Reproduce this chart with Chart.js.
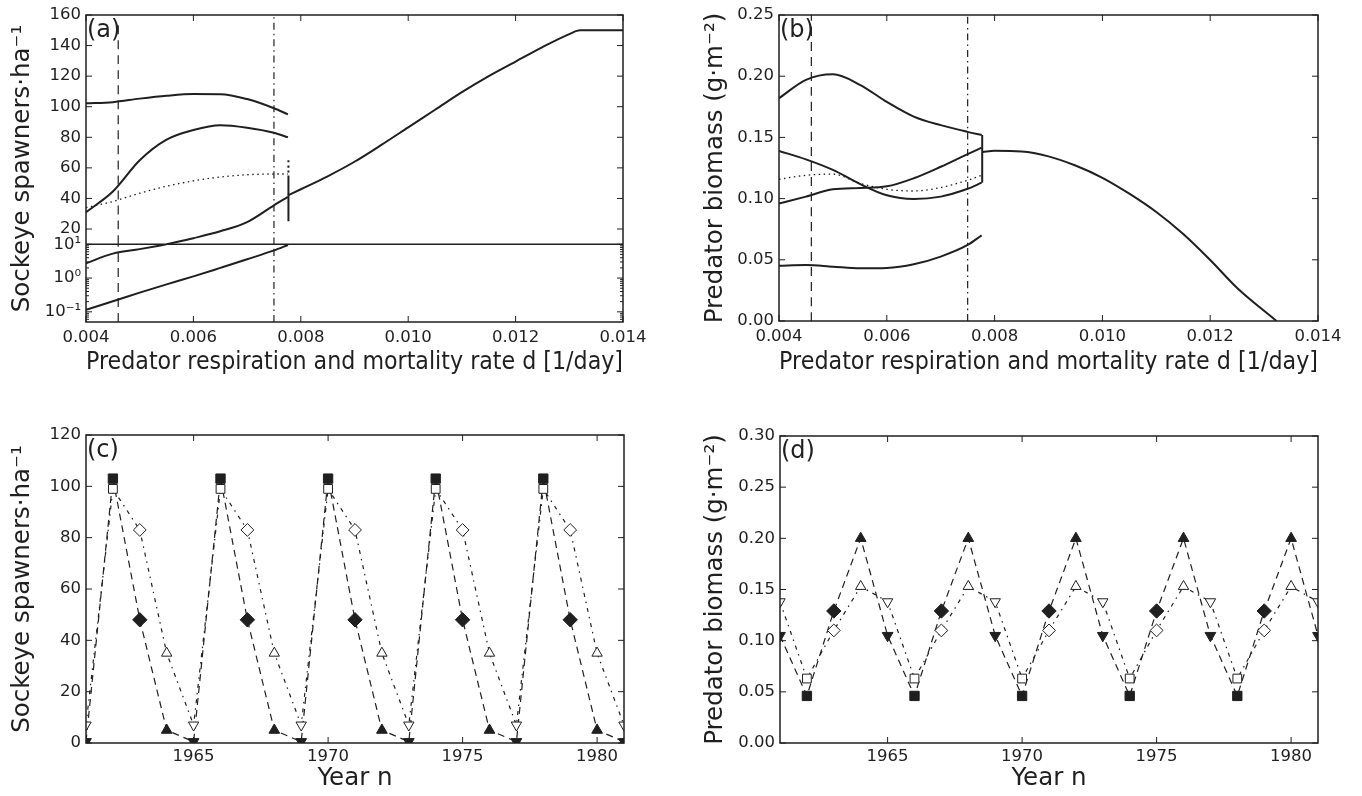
<!DOCTYPE html>
<html>
<head>
<meta charset="utf-8">
<title>Sockeye / predator bifurcation and cycles</title>
<script src="https://cdn.jsdelivr.net/npm/chart.js@4.4.0/dist/chart.umd.min.js"></script>
<style>
  html, body { margin: 0; padding: 0; background: #fff; }
  body { width: 1362px; height: 796px; position: relative; overflow: hidden; }
  .panel { position: absolute; }
</style>
</head>
<body>
<div class="panel" style="left:0;top:0;width:680px;height:395px"><canvas id="chartA"></canvas></div>
<div class="panel" style="left:690px;top:0;width:672px;height:395px"><canvas id="chartB"></canvas></div>
<div class="panel" style="left:0;top:400px;width:680px;height:396px"><canvas id="chartC"></canvas></div>
<div class="panel" style="left:690px;top:400px;width:672px;height:396px"><canvas id="chartD"></canvas></div>
<script>
// ---------- data: panels (a) and (b), equilibria against d ----------
const D_LEFT = [0.004, 0.0045, 0.005, 0.0055, 0.006, 0.0065, 0.007, 0.0075, 0.00776];
const D_LOGPART = [0.004, 0.0045, 0.005, 0.0055];
const D_LINPART = [0.0055, 0.006, 0.0065, 0.007, 0.0075, 0.00776];
const D_TAIL_A = [0.00776, 0.008, 0.0085, 0.009, 0.0095, 0.010, 0.0105, 0.011, 0.0115, 0.012, 0.0125, 0.013, 0.0132, 0.014];
const D_TAIL_B = [0.00778, 0.008, 0.0085, 0.009, 0.0095, 0.010, 0.0105, 0.011, 0.0115, 0.012, 0.0125, 0.01323];
const D_JUMP = [0.00777, 0.00777];
const D_DASHED = [0.0046, 0.0046];
const D_DASHDOT = [0.0075, 0.0075];

// (a) sockeye spawners, linear part (10..160)
const A_UPPER = [102.3, 103, 105.3, 107.2, 108.3, 108.2, 105, 99, 95];
const A_SECOND = [31, 44.5, 65, 78.5, 84.8, 87.9, 86.3, 83, 80];
const A_DOTTED = [34, 38, 43.4, 48, 51.5, 54, 55.5, 56, 56];
const A_RISE = [10, 14, 18.5, 24.5, 35.5, 41];
const A_TAIL = [42, 46, 54.5, 64, 75, 86.5, 98, 109.5, 120, 129.5, 139, 147.5, 150, 150];
const A_JUMP_SOLID = [25, 55];
const A_JUMP_DOTTED = [57, 67];
// (a) log part (0.05..10)
const A_LOW_START = [2.75, 5.3, 7.2, 10];
const A_LOWEST = [0.115, 0.205, 0.37, 0.65, 1.12, 2.0, 3.6, 6.6, 9.5];

// (b) predator biomass
const B_TOP = [0.182, 0.197, 0.2015, 0.193, 0.179, 0.167, 0.160, 0.1545, 0.152];
const B_FALL = [0.139, 0.132, 0.1234, 0.112, 0.1027, 0.0997, 0.1016, 0.108, 0.113];
const B_RISE = [0.096, 0.1016, 0.1076, 0.1087, 0.110, 0.1166, 0.126, 0.1364, 0.1416];
const B_DOTTED = [0.1158, 0.119, 0.120, 0.1125, 0.1076, 0.1062, 0.109, 0.115, 0.119];
const B_LOW = [0.0452, 0.0458, 0.0444, 0.043, 0.0433, 0.0463, 0.0526, 0.0621, 0.070];
const B_TAIL = [0.138, 0.139, 0.1385, 0.1345, 0.127, 0.117, 0.104, 0.089, 0.071, 0.0498, 0.027, 0];
const B_JUMP = [0.113, 0.152];

// ---------- data: panels (c) and (d), 4-year cycles ----------
const YEARS = [1961, 1962, 1963, 1964, 1965, 1966, 1967, 1968, 1969, 1970, 1971,
               1972, 1973, 1974, 1975, 1976, 1977, 1978, 1979, 1980, 1981];
const C_FILLED = [0.5, 103, 48, 5, 0.5, 103, 48, 5, 0.5, 103, 48, 5, 0.5, 103, 48, 5, 0.5, 103, 48, 5, 0.5];
const C_OPEN = [7, 99, 83, 35, 7, 99, 83, 35, 7, 99, 83, 35, 7, 99, 83, 35, 7, 99, 83, 35, 7];
const D_FILLED = [0.105, 0.046, 0.129, 0.2, 0.105, 0.046, 0.129, 0.2, 0.105, 0.046, 0.129,
                  0.2, 0.105, 0.046, 0.129, 0.2, 0.105, 0.046, 0.129, 0.2, 0.105];
const D_OPEN = [0.138, 0.063, 0.110, 0.153, 0.138, 0.063, 0.110, 0.153, 0.138, 0.063, 0.110,
                0.153, 0.138, 0.063, 0.110, 0.153, 0.138, 0.063, 0.110, 0.153, 0.138];

// ---------- tick labels ----------
const RATE_TICKS = [0.004, 0.006, 0.008, 0.010, 0.012, 0.014];
const A_LIN_TICKS = [20, 40, 60, 80, 100, 120, 140, 160];
const A_LOG_TICKS = [0.1, 1, 10];
const A_LOG_LABELS = ['10\u207B\u00B9', '10\u2070', '10\u00B9'];
const B_TICKS = [0, 0.05, 0.10, 0.15, 0.20, 0.25];
const YEAR_TICKS = [1965, 1970, 1975, 1980];
const C_TICKS = [0, 20, 40, 60, 80, 100, 120];
const D_TICKS = [0, 0.05, 0.10, 0.15, 0.20, 0.25, 0.30];

const INK = '#1f1f1f';
const TICK_PX = 16.5;
const TITLE_PX = 24.5;
const RATE_TITLE = 'Predator respiration and mortality rate d [1/day]';
const SOCKEYE_TITLE = 'Sockeye spawners\u00B7ha\u207B\u00B9';
const PREDATOR_TITLE = 'Predator biomass (g\u00B7m\u207B\u00B2)';

Chart.defaults.font.family = "'DejaVu Sans', sans-serif";
Chart.defaults.color = INK;
Chart.defaults.animation = false;

// box around the plot, inward ticks on all four sides, panel letter
const framePlugin = {
    id: 'frame',
    afterDatasetsDraw(chart, args, opts) {
        const ctx = chart.ctx;
        const a = chart.chartArea;
        const seg = (x1, y1, x2, y2) => { ctx.beginPath(); ctx.moveTo(x1, y1); ctx.lineTo(x2, y2); ctx.stroke(); };
        ctx.save();
        ctx.strokeStyle = INK;
        ctx.lineWidth = 1;
        Object.values(chart.scales).forEach(s => {
            s.ticks.forEach(t => {
                const p = s.getPixelForValue(t.value);
                if (s.isHorizontal()) {
                    seg(p, a.bottom, p, a.bottom - 6);
                    seg(p, a.top, p, a.top + 6);
                } else {
                    seg(a.left, p, a.left + 6, p);
                    seg(a.right, p, a.right - 6, p);
                }
            });
            if (s.type === 'logarithmic') {
                for (let e = -2; e <= 1; e++) {
                    for (let k = 2; k <= 9; k++) {
                        const v = k * Math.pow(10, e);
                        if (v <= s.min || v >= s.max) continue;
                        const p = s.getPixelForValue(v);
                        seg(a.left, p, a.left + 3, p);
                        seg(a.right, p, a.right - 3, p);
                    }
                }
            }
        });
        ctx.lineWidth = 1.5;
        ctx.strokeRect(a.left, a.top, a.right - a.left, a.bottom - a.top);
        if (opts.split) {
            const y = chart.scales[opts.split].bottom;
            seg(a.left, y, a.right, y);
        }
        ctx.fillStyle = INK;
        if (opts.label) {
            ctx.font = "24px 'DejaVu Sans'";
            ctx.textBaseline = 'top';
            ctx.textAlign = 'left';
            ctx.fillText(opts.label, a.left + 1, a.top + 4);
        }
        if (opts.yTitle) {
            // title that spans both stacked y axes of panel (a)
            ctx.font = TITLE_PX + "px 'DejaVu Sans'";
            ctx.translate(opts.yTitle.x, (a.top + a.bottom) / 2);
            ctx.rotate(-Math.PI / 2);
            ctx.textAlign = 'center';
            ctx.textBaseline = 'middle';
            ctx.fillText(opts.yTitle.text, 0, 0);
        }
        ctx.restore();
    }
};

function axisX(min, max, ticks, fmt, height, pad) {
    return {
        type: 'linear', position: 'bottom', min: min, max: max,
        grid: { display: false, drawTicks: false },
        border: { display: false },
        ticks: { padding: pad, autoSkip: false, maxRotation: 0, font: { size: TICK_PX }, callback: fmt },
        afterBuildTicks: s => { s.ticks = ticks.map(v => ({ value: v })); },
        afterFit: s => { s.height = height; s.paddingLeft = 0; s.paddingRight = 0; }
    };
}

function axisY(type, min, max, ticks, fmt, width) {
    return {
        type: type, position: 'left', min: min, max: max,
        grid: { display: false, drawTicks: false },
        border: { display: false },
        ticks: { padding: 5, autoSkip: false, font: { size: TICK_PX }, callback: fmt },
        afterBuildTicks: s => { s.ticks = ticks.map(v => ({ value: v })); },
        afterFit: s => { s.width = width; s.paddingTop = 0; s.paddingBottom = 0; }
    };
}

function axisTitle(text, padTop, padBottom) {
    return { display: true, text: text, font: { size: TITLE_PX }, padding: { top: padTop, bottom: padBottom } };
}

function curve(xs, ys, axis, dash, width) {
    return {
        data: xs.map((x, i) => ({ x: x, y: ys[i] })),
        yAxisID: axis,
        borderColor: INK,
        borderWidth: width,
        borderDash: dash,
        pointRadius: 0,
        fill: false,
        cubicInterpolationMode: 'monotone',
        clip: 0
    };
}

const SOLID = [];
const DASHED = [9, 6];
const DASHDOT = [7, 4, 1.5, 4];
const DOTTED = [1.5, 3.5];

// marker style follows the position in the 4-year cycle (1961 is the down-triangle year)
const PHASE_STYLE = ['triangle', 'rect', 'rectRot', 'triangle'];
const PHASE_ROT = [180, 0, 0, 0];
const FILLED_R = [6.2, 6.6, 7.2, 6.2];
const OPEN_R = [6, 6.2, 6.4, 6];

function cycle(ys, dash, filled) {
    const r = filled ? FILLED_R : OPEN_R;
    return {
        data: YEARS.map((x, i) => ({ x: x, y: ys[i] })),
        borderColor: INK,
        borderWidth: 1.2,
        borderDash: dash,
        pointStyle: c => PHASE_STYLE[c.dataIndex % 4],
        pointRotation: c => PHASE_ROT[c.dataIndex % 4],
        pointRadius: c => r[c.dataIndex % 4],
        pointBackgroundColor: filled ? INK : '#ffffff',
        pointBorderColor: INK,
        pointBorderWidth: 1,
        tension: 0,
        clip: 0
    };
}

function baseOptions(padding, scales, frame) {
    return {
        responsive: true,
        maintainAspectRatio: false,
        animation: false,
        layout: { padding: padding },
        plugins: { legend: { display: false }, tooltip: { enabled: false }, frame: frame },
        scales: scales
    };
}

// ---------- (a) ----------
const aX = axisX(0.004, 0.014, RATE_TICKS, v => v.toFixed(3), 55, 6);
aX.title = axisTitle(RATE_TITLE, 0, 0);
const aLog = axisY('logarithmic', 0.05, 10, A_LOG_TICKS, (v, i) => A_LOG_LABELS[i], 86);
aLog.stack = 'a'; aLog.stackWeight = 77.7; aLog.weight = 0;
const aLin = axisY('linear', 10, 160, A_LIN_TICKS, v => String(v), 86);
aLin.stack = 'a'; aLin.stackWeight = 229.3; aLin.weight = 1;

new Chart(document.getElementById('chartA'), {
    type: 'line',
    data: {
        datasets: [
            curve(D_DASHED, [10, 157], 'yLin', DASHED, 1.2),
            curve(D_DASHED, [0.05, 10], 'yLog', DASHED, 1.2),
            curve(D_DASHDOT, [10, 160], 'yLin', DASHDOT, 1.2),
            curve(D_DASHDOT, [0.05, 10], 'yLog', DASHDOT, 1.2),
            curve(D_LEFT, A_UPPER, 'yLin', SOLID, 2),
            curve(D_LEFT, A_SECOND, 'yLin', SOLID, 2),
            curve(D_LEFT, A_DOTTED, 'yLin', DOTTED, 1.3),
            curve(D_LOGPART, A_LOW_START, 'yLog', SOLID, 2),
            curve(D_LINPART, A_RISE, 'yLin', SOLID, 2),
            curve(D_TAIL_A, A_TAIL, 'yLin', SOLID, 2),
            curve(D_JUMP, A_JUMP_SOLID, 'yLin', SOLID, 2),
            curve(D_JUMP, A_JUMP_DOTTED, 'yLin', [2, 3], 2),
            curve(D_LEFT, A_LOWEST, 'yLog', SOLID, 2)
        ]
    },
    options: baseOptions({ left: 0, top: 15, right: 57, bottom: 18 },
        { x: aX, yLog: aLog, yLin: aLin },
        { label: '(a)', split: 'yLin', yTitle: { text: SOCKEYE_TITLE, x: 22.5 } }),
    plugins: [framePlugin]
});

// ---------- (b) ----------
const bX = axisX(0.004, 0.014, RATE_TICKS, v => v.toFixed(3), 56, 6);
bX.title = axisTitle(RATE_TITLE, 0, 0);
const bY = axisY('linear', 0, 0.25, B_TICKS, v => v.toFixed(2), 89);
bY.title = axisTitle(PREDATOR_TITLE, 10.5, 0);

new Chart(document.getElementById('chartB'), {
    type: 'line',
    data: {
        datasets: [
            curve(D_DASHED, [0, 0.25], 'y', DASHED, 1.2),
            curve(D_DASHDOT, [0, 0.25], 'y', DASHDOT, 1.2),
            curve(D_LEFT, B_TOP, 'y', SOLID, 2),
            curve(D_LEFT, B_FALL, 'y', SOLID, 2),
            curve(D_LEFT, B_RISE, 'y', SOLID, 2),
            curve(D_LEFT, B_DOTTED, 'y', DOTTED, 1.3),
            curve(D_LEFT, B_LOW, 'y', SOLID, 2),
            curve(D_JUMP, B_JUMP, 'y', SOLID, 2),
            curve(D_TAIL_B, B_TAIL, 'y', SOLID, 2)
        ]
    },
    options: baseOptions({ left: 0, top: 15, right: 44, bottom: 18 },
        { x: bX, y: bY }, { label: '(b)' }),
    plugins: [framePlugin]
});

// ---------- (c) ----------
const cX = axisX(1961, 1981, YEAR_TICKS, v => String(v), 50, 4);
cX.title = axisTitle('Year n', 0, 0);
const cY = axisY('linear', 0, 120, C_TICKS, v => String(v), 86);
cY.title = axisTitle(SOCKEYE_TITLE, 7.8, 0);

new Chart(document.getElementById('chartC'), {
    type: 'line',
    data: {
        datasets: [
            cycle(C_OPEN, [4, 5, 1.5, 5], false),
            cycle(C_FILLED, [7, 5], true)
        ]
    },
    options: baseOptions({ left: 0, top: 35, right: 56, bottom: 3 },
        { x: cX, y: cY }, { label: '(c)' }),
    plugins: [framePlugin]
});

// ---------- (d) ----------
const dX = axisX(1961, 1981, YEAR_TICKS, v => String(v), 50, 4);
dX.title = axisTitle('Year n', 0, 0);
const dY = axisY('linear', 0, 0.30, D_TICKS, v => v.toFixed(2), 90);
dY.title = axisTitle(PREDATOR_TITLE, 10.5, 0);

new Chart(document.getElementById('chartD'), {
    type: 'line',
    data: {
        datasets: [
            cycle(D_OPEN, [4, 5, 1.5, 5], false),
            cycle(D_FILLED, [7, 5], true)
        ]
    },
    options: baseOptions({ left: 0, top: 36, right: 44, bottom: 3 },
        { x: dX, y: dY }, { label: '(d)' }),
    plugins: [framePlugin]
});
</script>
</body>
</html>
